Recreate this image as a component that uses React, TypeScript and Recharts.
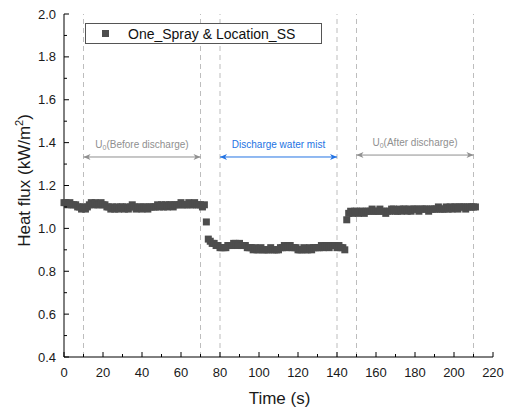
import React from "react";
import { ScatterChart, Scatter, XAxis, YAxis, ReferenceLine, Legend } from "recharts";

const SERIES_NAME = "One_Spray & Location_SS";
const SAMPLE_STEP = 1; // seconds between samples

// heat flux, kW/m2, one sample per second from t = 0
const beforeValues = [
  1.12, 1.12, 1.11, 1.12, 1.11, 1.11, 1.11, 1.1,
  1.1, 1.09, 1.1, 1.09, 1.1,
  1.11, 1.12, 1.11, 1.12, 1.11, 1.11, 1.12, 1.11, 1.11, 1.1,
  1.1, 1.09, 1.1, 1.09, 1.1, 1.09, 1.1, 1.1, 1.09, 1.1,
  1.09, 1.1, 1.11,
  1.1, 1.09, 1.1, 1.1, 1.09, 1.1, 1.1, 1.09, 1.1, 1.1, 1.1,
  1.1, 1.11, 1.1, 1.11, 1.1, 1.11, 1.1, 1.11, 1.11, 1.1, 1.11,
  1.11, 1.11, 1.12, 1.11, 1.11, 1.11, 1.12, 1.11, 1.11, 1.12, 1.11,
  1.11, 1.11, 1.1, 1.11
];
const switchOnValue = 1.03;
const dischargeValues = [
  0.95, 0.94, 0.93, 0.93,
  0.92, 0.92, 0.91, 0.91, 0.91, 0.91, 0.92, 0.92, 0.92,
  0.93, 0.93, 0.92, 0.93, 0.92, 0.92, 0.92, 0.91, 0.91,
  0.91, 0.9, 0.91, 0.9, 0.9, 0.91, 0.9, 0.9, 0.9, 0.9, 0.91, 0.9, 0.9, 0.9, 0.9, 0.91,
  0.91, 0.92, 0.91, 0.92, 0.92, 0.91, 0.91, 0.91, 0.9,
  0.9, 0.9, 0.91, 0.9, 0.9, 0.91, 0.9, 0.91, 0.91, 0.91,
  0.91, 0.92, 0.91, 0.92, 0.92, 0.91, 0.92, 0.92, 0.92, 0.91, 0.92, 0.91, 0.91, 0.9
];
const switchOffValue = 1.04;
const afterValues = [
  1.07, 1.08, 1.07, 1.08, 1.08, 1.07, 1.08, 1.08, 1.07, 1.08,
  1.08, 1.08, 1.09, 1.08, 1.08, 1.08, 1.09, 1.08, 1.08, 1.07, 1.08, 1.08, 1.09, 1.09, 1.08,
  1.08, 1.09, 1.08, 1.09, 1.09, 1.08, 1.09, 1.08, 1.09, 1.09, 1.09, 1.08, 1.09, 1.09, 1.09, 1.09, 1.08, 1.09, 1.09, 1.09,
  1.09, 1.1, 1.09, 1.09, 1.09, 1.1, 1.09, 1.1, 1.09, 1.1, 1.1, 1.09, 1.1, 1.1, 1.1, 1.09, 1.1, 1.1, 1.1, 1.1, 1.1
];

const heatFlux = [...beforeValues, switchOnValue, ...dischargeValues, switchOffValue, ...afterValues];
const data = heatFlux.map((v, i) => ({ time: i * SAMPLE_STEP, flux: v }));

const xTicks = [0, 10, 20, 30, 40, 50, 60, 70, 80, 90, 100, 110, 120, 130, 140, 150, 160, 170, 180, 190, 200, 210, 220];
const yTicks = [0.4, 0.5, 0.6, 0.7, 0.8, 0.9, 1.0, 1.1, 1.2, 1.3, 1.4, 1.5, 1.6, 1.7, 1.8, 1.9, 2.0];

// dashed guides and the three phases between them
const guideTimes = [10, 70, 80, 140, 150, 210];
const phaseStarts = [10, 80, 150];
const phaseEnds = [70, 140, 210];
const phaseLabels = ["(Before discharge)", "Discharge water mist", "(After discharge)"];
const phaseLevels = [1.333, 1.333, 1.342];

const FONT = '"Liberation Sans", Arial, sans-serif';
const INK = "#1a1a1a";
const GRAY = "#8f8f8f";
const BLUE = "#2373e3";

const tickLen = (major: boolean) => (major ? 5 : 3);

const BottomTick = ({ x, y, payload }: any) => {
  const v = payload.value;
  const major = v % 20 === 0;
  return (
    <g>
      <line x1={x} y1={y} x2={x} y2={y - tickLen(major)} stroke="#000" />
      {major && (
        <text x={x} y={y + 20} textAnchor="middle" fontSize={13} fontFamily={FONT} fill={INK}>
          {v}
        </text>
      )}
    </g>
  );
};

const TopTick = ({ x, y, payload }: any) => {
  const major = payload.value % 20 === 0;
  return <line x1={x} y1={y} x2={x} y2={y + tickLen(major)} stroke="#000" />;
};

const LeftTick = ({ x, y, payload }: any) => {
  const v = payload.value;
  const major = Math.round(v * 10) % 2 === 0;
  return (
    <g>
      <line x1={x} y1={y} x2={x + tickLen(major)} y2={y} stroke="#000" />
      {major && (
        <text x={x - 8} y={y + 4.5} textAnchor="end" fontSize={13} fontFamily={FONT} fill={INK}>
          {v.toFixed(1)}
        </text>
      )}
    </g>
  );
};

const RightTick = ({ x, y, payload }: any) => {
  const major = Math.round(payload.value * 10) % 2 === 0;
  return <line x1={x} y1={y} x2={x - tickLen(major)} y2={y} stroke="#000" />;
};

const SquareDot = ({ cx, cy }: any) => (
  <rect x={cx - 3.5} y={cy - 3.5} width={7} height={7} fill="#4d4d4d" />
);

const PhaseArrow = (idx: number) => (props: any) => {
  const { x1, y1, x2 } = props;
  const color = idx === 1 ? BLUE : GRAY;
  const mid = (x1 + x2) / 2;
  return (
    <g>
      <line x1={x1} y1={y1} x2={x2} y2={y1} stroke={color} strokeWidth={1} />
      <path d={`M${x1},${y1} L${x1 + 7},${y1 - 3} L${x1 + 5},${y1} L${x1 + 7},${y1 + 3} Z`} fill={color} />
      <path d={`M${x2},${y1} L${x2 - 7},${y1 - 3} L${x2 - 5},${y1} L${x2 - 7},${y1 + 3} Z`} fill={color} />
      <text x={mid} y={y1 - 9} textAnchor="middle" fontSize={10} fontFamily={FONT} fill={color}>
        {idx === 1 ? (
          phaseLabels[idx]
        ) : (
          <>
            U<tspan fontSize={7} dy={2}>0</tspan>
            <tspan dy={-2}>{phaseLabels[idx]}</tspan>
          </>
        )}
      </text>
    </g>
  );
};

const LegendBox = ({ payload }: any) => (
  <div
    style={{
      boxSizing: "border-box",
      width: 237,
      height: 21,
      border: "1px solid #555",
      background: "#fff",
      display: "flex",
      alignItems: "center",
      fontFamily: FONT,
      fontSize: 14,
      color: "#111",
      whiteSpace: "nowrap"
    }}
  >
    <span style={{ display: "inline-block", width: 7, height: 7, background: "#4d4d4d", marginLeft: 16, marginRight: 19 }} />
    <span>{payload && payload[0] ? payload[0].value : SERIES_NAME}</span>
  </div>
);

const YTitle = ({ viewBox }: any) => {
  const cx = viewBox.x + 21.5;
  const cy = viewBox.y + viewBox.height / 2 - 5;
  return (
    <text x={cx} y={cy} transform={`rotate(-90, ${cx}, ${cy})`} textAnchor="middle" fontSize={17} fontFamily={FONT} fill={INK}>
      Heat flux (kW/m<tspan fontSize={11} dy={-7}>2</tspan>
      <tspan dy={7}>)</tspan>
    </text>
  );
};

const XTitle = ({ viewBox }: any) => (
  <text x={viewBox.x + viewBox.width / 2 + 1} y={viewBox.y + 47} textAnchor="middle" fontSize={17} fontFamily={FONT} fill={INK}>
    Time (s)
  </text>
);

export default function App() {
  return (
    <div style={{ position: "absolute", top: 8, left: 8 }}>
      <ScatterChart width={499} height={406} margin={{ top: 6, right: 14, bottom: 0, left: 0 }}>
        <XAxis
          dataKey="time"
          type="number"
          domain={[0, 220]}
          ticks={xTicks}
          interval={0}
          height={57}
          tickSize={0}
          tickMargin={0}
          tickLine={false}
          tick={BottomTick}
          axisLine={{ stroke: "#000" }}
          label={XTitle}
        />
        <XAxis
          xAxisId="top"
          orientation="top"
          dataKey="time"
          type="number"
          domain={[0, 220]}
          ticks={xTicks}
          interval={0}
          height={0}
          tickSize={0}
          tickMargin={0}
          tickLine={false}
          tick={TopTick}
          axisLine={{ stroke: "#000" }}
        />
        <YAxis
          dataKey="flux"
          type="number"
          domain={[0.4, 2.0]}
          ticks={yTicks}
          interval={0}
          width={56}
          tickSize={0}
          tickMargin={0}
          tickLine={false}
          tick={LeftTick}
          axisLine={{ stroke: "#000" }}
          label={YTitle}
        />
        <YAxis
          yAxisId="right"
          orientation="right"
          type="number"
          domain={[0.4, 2.0]}
          ticks={yTicks}
          interval={0}
          width={0}
          tickSize={0}
          tickMargin={0}
          tickLine={false}
          tick={RightTick}
          axisLine={{ stroke: "#000" }}
        />
        {guideTimes.map((t) => (
          <ReferenceLine key={`g-${t}`} x={t} stroke="#bdbdbd" strokeDasharray="5 4" />
        ))}
        {phaseStarts.map((s, i) => (
          <ReferenceLine
            key={`p-${i}`}
            segment={[
              { x: s, y: phaseLevels[i] },
              { x: phaseEnds[i], y: phaseLevels[i] }
            ]}
            shape={PhaseArrow(i)}
          />
        ))}
        <Scatter data={data} dataKey="flux" name={SERIES_NAME} shape={SquareDot} isAnimationActive={false} />
        <Legend
          layout="horizontal"
          verticalAlign="middle"
          align="center"
          wrapperStyle={{ left: 77, top: 15, width: "auto", height: "auto" }}
          content={LegendBox}
        />
      </ScatterChart>
    </div>
  );
}
